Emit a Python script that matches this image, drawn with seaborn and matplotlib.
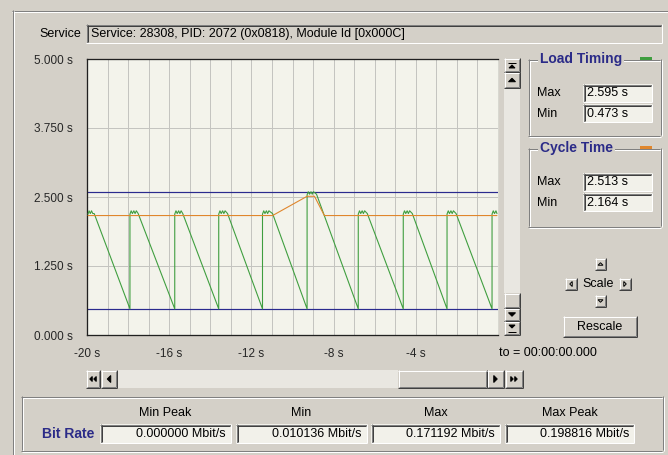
import matplotlib
matplotlib.use("Agg")
import matplotlib.pyplot as plt
import seaborn as sns
import pandas as pd
from matplotlib.patches import Rectangle, Polygon

# ---------------- data ----------------
load_time = [
    -19.95, -19.90, -19.84, -19.78, -19.72, -19.65, -17.91,
    -17.91, -17.85, -17.79, -17.72, -17.66, -17.60, -17.51, -15.73,
    -15.73, -15.67, -15.61, -15.54, -15.48, -15.42, -15.34, -13.59,
    -13.59, -13.53, -13.47, -13.40, -13.34, -13.28, -13.16, -11.46,
    -11.46, -11.40, -11.34, -11.27, -11.21, -11.15, -10.97, -9.29,
    -9.29, -9.23, -9.17, -9.10, -9.04, -8.98, -8.83, -6.80,
    -6.80, -6.74, -6.68, -6.61, -6.55, -6.49, -6.36, -4.61,
    -4.61, -4.55, -4.49, -4.42, -4.36, -4.30, -4.17, -2.48,
    -2.48, -2.42, -2.36, -2.29, -2.23, -2.17, -2.04, -0.29,
    -0.29, -0.23, -0.17, -0.10, -0.05,
]
load_value = [
    2.19, 2.25, 2.20, 2.25, 2.20, 2.20, 0.473,
    2.19, 2.25, 2.20, 2.25, 2.20, 2.25, 2.20, 0.473,
    2.19, 2.25, 2.20, 2.25, 2.20, 2.25, 2.20, 0.473,
    2.19, 2.25, 2.20, 2.25, 2.20, 2.25, 2.20, 0.473,
    2.19, 2.25, 2.20, 2.25, 2.20, 2.25, 2.20, 0.473,
    2.54, 2.595, 2.55, 2.595, 2.55, 2.595, 2.55, 0.473,
    2.19, 2.25, 2.20, 2.25, 2.20, 2.25, 2.20, 0.473,
    2.19, 2.25, 2.20, 2.25, 2.20, 2.25, 2.20, 0.473,
    2.19, 2.25, 2.20, 2.25, 2.20, 2.25, 2.20, 0.473,
    2.19, 2.25, 2.20, 2.25, 2.20,
]
cycle_time = [-19.95, -10.97, -9.29, -8.93, -8.45, -0.05]
cycle_value = [2.164, 2.164, 2.513, 2.513, 2.164, 2.164]

load_max, load_min = 2.595, 0.473
cycle_max, cycle_min = 2.513, 2.164
load_max_text, load_min_text = "2.595 s", "0.473 s"
cycle_max_text, cycle_min_text = "2.513 s", "2.164 s"

y_ticks = [0.0, 1.25, 2.5, 3.75, 5.0]
y_tick_labels = ["0.000 s", "1.250 s", "2.500 s", "3.750 s", "5.000 s"]
y_minor_ticks = [0.3125, 0.625, 0.9375, 1.5625, 1.875, 2.1875,
                 2.8125, 3.125, 3.4375, 4.0625, 4.375, 4.6875]
x_ticks = [-20, -16, -12, -8, -4]
x_tick_labels = ["-20 s", "-16 s", "-12 s", "-8 s", "-4 s"]
x_minor_ticks = [-19, -18, -17, -15, -14, -13, -11, -10, -9, -7, -6, -5, -3, -2, -1]

bitrate_headers = ["Min Peak", "Min", "Max", "Max Peak"]
bitrate_values = ["0.000000 Mbit/s", "0.010136 Mbit/s", "0.171192 Mbit/s", "0.198816 Mbit/s"]
service_text = "Service: 28308, PID: 2072 (0x0818), Module Id [0x000C]"
time_origin = "to = 00:00:00.000"

# ---------------- style ----------------
BG = "#d4d0c8"
FIELD = "#f2f1ea"
TRACK = "#e9e7e1"
PLOT_BG = "#f3f3eb"
GRID = "#c4c4c0"
GREEN = "#3f9e3f"
ORANGE = "#e0862c"
NAVY = "#2a2a8e"
TITLE = "#2b2b88"
DARK = "#808080"
DARKER = "#404040"
WHITE = "#ffffff"

sns.set_style("white")
plt.rcParams["font.family"] = ["Liberation Sans Narrow", "Liberation Sans", "DejaVu Sans"]
plt.rcParams["font.size"] = 9

W, H = 668, 455
fig = plt.figure(figsize=(W / 100, H / 100), dpi=100, facecolor=BG)

ui = fig.add_axes([0, 0, 1, 1], zorder=0)
ui.set_xlim(0, W)
ui.set_ylim(H, 0)
ui.axis("off")
ui.set_facecolor(BG)

PX = 0.72


def line(xs, ys, c, lw=1):
    ui.plot(xs, ys, color=c, lw=lw * PX, solid_capstyle="butt")


def rect(x0, y0, x1, y1, fill):
    ui.add_patch(Rectangle((x0, y0), x1 - x0, y1 - y0, facecolor=fill, edgecolor="none"))


def sunken(x0, y0, x1, y1, fill):
    rect(x0, y0, x1, y1, fill)
    line([x0, x1], [y0 + .5, y0 + .5], DARK)
    line([x0 + .5, x0 + .5], [y0, y1], DARK)
    line([x0 + 1, x1 - 1], [y0 + 1.5, y0 + 1.5], DARKER)
    line([x0 + 1.5, x0 + 1.5], [y0 + 1, y1 - 1], DARKER)
    line([x0, x1], [y1 - .5, y1 - .5], WHITE)
    line([x1 - .5, x1 - .5], [y0, y1], WHITE)


def raised(x0, y0, x1, y1):
    rect(x0, y0, x1, y1, BG)
    line([x0, x1], [y0 + .5, y0 + .5], WHITE)
    line([x0 + .5, x0 + .5], [y0, y1], WHITE)
    line([x0, x1], [y1 - .5, y1 - .5], DARKER)
    line([x1 - .5, x1 - .5], [y0, y1], DARKER)
    line([x0 + 1, x1 - 1], [y1 - 1.5, y1 - 1.5], DARK)
    line([x1 - 1.5, x1 - 1.5], [y0 + 1, y1 - 1], DARK)


def etched(x0, y0, x1, y1):
    for off, c in ((1, WHITE), (0, DARK)):
        line([x0 + off, x1 + off], [y0 + .5 + off, y0 + .5 + off], c)
        line([x0 + off, x1 + off], [y1 + .5 + off, y1 + .5 + off], c)
        line([x0 + .5 + off, x0 + .5 + off], [y0 + off, y1 + off], c)
        line([x1 + .5 + off, x1 + .5 + off], [y0 + off, y1 + off], c)


def tri(cx, cy, s, d, filled=True):
    if d == "up":
        pts = [(cx - s, cy + s / 2), (cx + s, cy + s / 2), (cx, cy - s / 2)]
    elif d == "down":
        pts = [(cx - s, cy - s / 2), (cx + s, cy - s / 2), (cx, cy + s / 2)]
    elif d == "left":
        pts = [(cx + s / 2, cy - s), (cx + s / 2, cy + s), (cx - s / 2, cy)]
    else:
        pts = [(cx - s / 2, cy - s), (cx - s / 2, cy + s), (cx + s / 2, cy)]
    ui.add_patch(Polygon(pts, closed=True, facecolor="black" if filled else "none",
                         edgecolor="black", lw=0.7))


def text(x, y, s, ha="left", size=9, bold=False, color="black", bbox=None):
    ui.text(x, y, s, ha=ha, va="center", fontsize=size, color=color,
            fontweight="bold" if bold else "normal", bbox=bbox)


# outer frame
line([12, W], [10.5, 10.5], DARK)
line([12, W], [11.5, 11.5], WHITE)
line([12.5, 12.5], [10, H], DARK)
line([13.5, 13.5], [11, H], WHITE)

# service row
text(81, 34, "Service", ha="right")
sunken(86, 24, 662, 43, BG)
text(91, 34, service_text)

# vertical scrollbar
rect(504, 58, 520, 335, TRACK)
raised(504, 58, 520, 72)
line([508, 516], [62.5, 62.5], "black")
tri(512, 66.5, 3, "up")
raised(504, 72, 520, 88)
tri(512, 80, 3.5, "up")
raised(504, 293, 520, 308)
raised(504, 308, 520, 321)
tri(512, 314.5, 3.5, "down")
raised(504, 321, 520, 335)
tri(512, 326.5, 3, "down")
line([508, 516], [331.5, 331.5], "black")

# horizontal scrollbar
rect(86, 370, 523, 388, TRACK)
raised(86, 370, 100, 388)
tri(91, 379, 2.5, "left")
tri(95, 379, 2.5, "left")
raised(101, 370, 117, 388)
tri(109, 379, 3.5, "left")
raised(398, 370, 487, 388)
raised(487, 370, 504, 388)
tri(495.5, 379, 3.5, "right")
raised(505, 370, 523, 388)
tri(512, 379, 2.5, "right")
tri(516, 379, 2.5, "right")

# group boxes on the right
mask = dict(facecolor=BG, edgecolor="none", pad=1.5)
for (y0, y1, title, col, mx, mn) in (
        (59, 135, "Load Timing", GREEN, load_max_text, load_min_text),
        (148, 226, "Cycle Time", ORANGE, cycle_max_text, cycle_min_text)):
    etched(528, y0, 660, y1)
    text(540, y0, title, size=10, bold=True, color=TITLE, bbox=mask)
    rect(636, y0 - 3, 656, y0 + 4, BG)
    rect(640, y0 - 2, 652, y0 + 3, col)
    sunken(583, y0 + 25, 652, y0 + 43, FIELD)
    sunken(583, y0 + 45, 652, y0 + 63, FIELD)
    text(537, y0 + 34, "Max")
    text(587, y0 + 34, mx)
    text(537, y0 + 55, "Min")
    text(587, y0 + 55, mn)

# scale buttons
raised(595, 258, 606, 270)
tri(600.5, 264, 2.5, "up", filled=False)
raised(565, 278, 577, 290)
tri(571, 284, 2.5, "left", filled=False)
raised(619, 278, 631, 290)
tri(625, 284, 2.5, "right", filled=False)
raised(595, 295, 606, 307)
tri(600.5, 301, 2.5, "down", filled=False)
text(598, 284, "Scale", ha="center")
raised(563, 316, 637, 337)
text(600, 326.5, "Rescale", ha="center")

# time origin label
text(499, 353, time_origin)

# bit rate box
etched(21, 396, 662, 450)
text(42, 434, "Bit Rate", size=10, bold=True, color=TITLE)
boxes = [(100, 231), (236, 367), (371, 500), (505, 634)]
for (x0, x1), hdr, val in zip(boxes, bitrate_headers, bitrate_values):
    sunken(x0, 424, x1, 443, FIELD)
    text((x0 + x1) / 2, 413, hdr, ha="center")
    text(x1 - 5, 434, val, ha="right")

# ---------------- main chart ----------------
ax = fig.add_axes([87 / W, (H - 335) / H, 411 / W, 276 / H], zorder=2)
ax.set_facecolor(PLOT_BG)

for yv in (1.25, 2.5, 3.75):
    ax.axhline(yv, color=GRID, lw=1 * PX, zorder=0)
for xv in x_ticks[1:] + x_minor_ticks:
    ax.axvline(xv, color=GRID, lw=1 * PX, zorder=0)

ax.axhline(load_max, color=NAVY, lw=1.2 * PX, zorder=2)
ax.axhline(load_min, color=NAVY, lw=1.2 * PX, zorder=2)

df_load = pd.DataFrame({"time": load_time, "value": load_value})
df_cycle = pd.DataFrame({"time": cycle_time, "value": cycle_value})
sns.lineplot(data=df_load, x="time", y="value", ax=ax, color=GREEN,
             lw=1.1 * PX, estimator=None, sort=False, zorder=3)
sns.lineplot(data=df_cycle, x="time", y="value", ax=ax, color=ORANGE,
             lw=1.1 * PX, estimator=None, sort=False, zorder=4)

ax.set_xlim(-20, 0)
ax.set_ylim(0, 5)
ax.set_xlabel("")
ax.set_ylabel("")
ax.set_yticks(y_ticks)
ax.set_yticklabels(y_tick_labels)
ax.set_yticks(y_minor_ticks, minor=True)
ax.set_xticks(x_ticks)
ax.set_xticklabels(x_tick_labels)
ax.set_xticks(x_minor_ticks, minor=True)
ax.tick_params(axis="y", which="major", direction="out", length=7,
               width=0.9, color="black", labelsize=8.5, pad=3.5)
ax.tick_params(axis="y", which="minor", direction="out", length=3.6,
               width=0.9, color="black")
ax.tick_params(axis="x", which="major", direction="out", length=6,
               width=0.9, color="black", labelsize=8.5, pad=3.5)
ax.tick_params(axis="x", which="minor", direction="out", length=3,
               width=0.9, color="black")
for side in ("left", "bottom", "top"):
    ax.spines[side].set_color("#202020")
    ax.spines[side].set_linewidth(1.3 * PX)
ax.spines["right"].set_color("#d8d8d0")
ax.spines["right"].set_linewidth(1 * PX)

fig.savefig("out.png", dpi=100, facecolor=BG)
